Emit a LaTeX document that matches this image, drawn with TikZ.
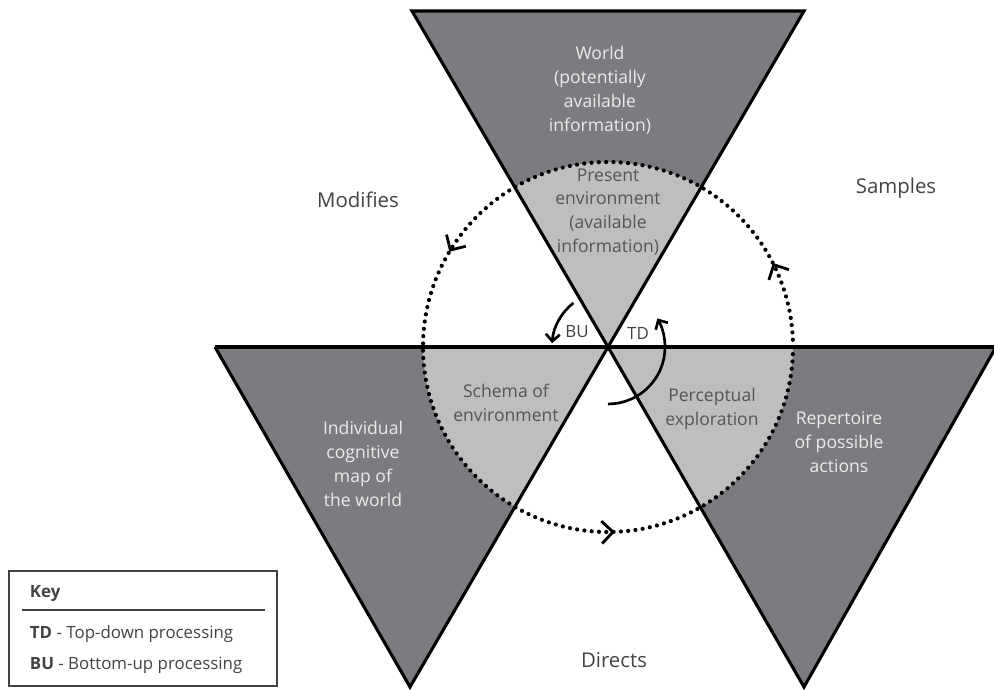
\documentclass[tikz,border=0pt]{standalone}
\usepackage{fontspec}
\setmainfont{Open Sans}
\usetikzlibrary{arrows.meta,decorations.markings}
\definecolor{darkzone}{HTML}{7B7C7F}
\definecolor{lightzone}{HTML}{BEBEC0}
\definecolor{outink}{HTML}{434345}
\definecolor{paleink}{HTML}{EBEBEB}
\definecolor{midink}{HTML}{555557}
\begin{document}
\begin{tikzpicture}[
            x=0.025cm, y=0.025cm,
            edge/.style={line width=2.2pt, line join=miter},
            inner/.style={align=center, font=\fontsize{12.5}{17}\selectfont},
            ondark/.style={inner, text=paleink},
            onlight/.style={inner, text=midink},
            outer/.style={font=\fontsize{14.5}{17}\selectfont, text=outink},
            keytext/.style={anchor=base west, font=\fontsize{12}{14}\selectfont, text=outink},
            loop/.style={line width=3pt, dash pattern=on 0pt off 5.2pt, line cap=round,
              postaction={decorate}},
            turn/.style={line width=1.9pt, -{Straight Barb[length=5pt,width=10pt]}},
            ]
            \useasboundingbox (0,0) rectangle (994,690);
            \coordinate (c) at (608,343);
            \coordinate (tl) at (412,679);
            \coordinate (tr) at (804,679);
            \coordinate (ll) at (215,343);
            \coordinate (lb) at (410,3);
            \coordinate (rr) at (996,343);
            \coordinate (rb) at (804,3);
            \fill[darkzone] (tl) -- (tr) -- (c) -- cycle
              (ll) -- (c) -- (lb) -- cycle
              (c) -- (rr) -- (rb) -- cycle;
            \begin{scope}
              \clip (c) circle (185);
              \fill[lightzone] (tl) -- (tr) -- (c) -- cycle
                (ll) -- (c) -- (lb) -- cycle
                (c) -- (rr) -- (rb) -- cycle;
            \end{scope}
            \draw[loop, decoration={markings,
                mark=at position 0.075 with {\arrow[line width=2pt]{Straight Barb[length=8pt,width=16pt]}},
                mark=at position 0.414 with {\arrow[line width=2pt]{Straight Barb[length=8pt,width=16pt]}},
                mark=at position 0.756 with {\arrow[line width=2pt]{Straight Barb[length=8pt,width=16pt]}}}]
              (c) circle (185);
            \draw[edge] (tl) -- (tr) -- (c) -- cycle;
            \draw[edge] (ll) -- (rr);
            \draw[edge] (ll) -- (lb) -- (c);
            \draw[edge] (c) -- (rb) -- (rr);
            \draw[turn] ([shift={(128:56)}]c) arc[start angle=128, end angle=176, radius=56];
            \draw[turn] ([shift={(-90:57)}]c) arc[start angle=-90, end angle=30, radius=57];
            \node[ondark] (world) at (600,600) {World\\(potentially\\available\\information)};
            \node[onlight] (present) at (608,478) {Present\\environment\\(available\\information)};
            \node[onlight] (schema) at (506,287) {Schema of\\environment};
            \node[onlight] (percept) at (712,281) {Perceptual\\exploration};
            \node[ondark] (cogmap) at (363,226) {Individual\\cognitive\\map of\\the world};
            \node[ondark] (repert) at (839,248) {Repertoire\\of possible\\actions};
            \node[outer] (modifies) at (358,490) {Modifies};
            \node[outer] (samples) at (896,502) {Samples};
            \node[outer] (directs) at (614,30) {Directs};
            \node[font=\fontsize{12}{14}\selectfont, text=outink] (bu) at (577,358) {BU};
            \node[font=\fontsize{12}{14}\selectfont, text=outink] (td) at (638,357) {TD};
            \draw[line width=1.3pt, draw=outink] (9,4) rectangle (277,119);
            \draw[line width=1.6pt, draw=outink] (22,80) -- (265,80);
            \node[keytext] (keyhead) at (25,92) {\textbf{Key}};
            \node[keytext] (keytd) at (25,51) {\textbf{TD} - Top-down processing};
            \node[keytext] (keybu) at (25,20) {\textbf{BU} - Bottom-up processing};
\end{tikzpicture}
\end{document}
